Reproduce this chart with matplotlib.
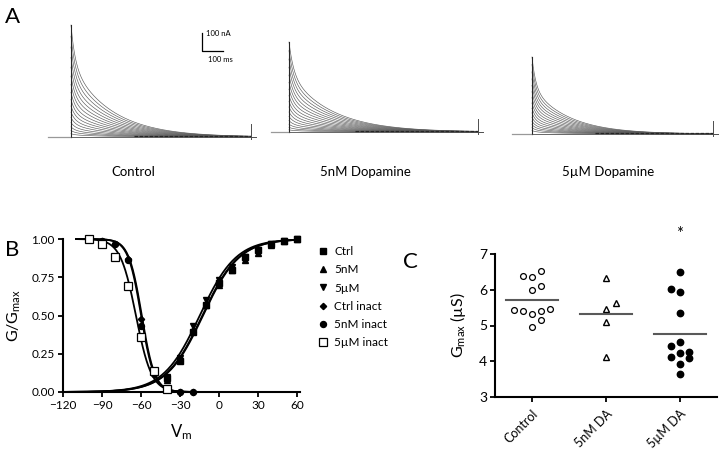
import numpy as np
import matplotlib.pyplot as plt
import matplotlib as mpl

plt.rcParams['font.family'] = ['Lato', 'DejaVu Sans']
plt.rcParams['mathtext.fontset'] = 'custom'
plt.rcParams['mathtext.rm'] = 'Lato'
plt.rcParams['mathtext.it'] = 'Lato'

W, H = 720, 449

# ---------------- panel A: current families (nA) ----------------
trace_names = ['Control', '5nM Dopamine', '5µM Dopamine']
ctrl_peaks = [622, 560, 500, 442, 388, 338, 292, 248, 208, 172, 138, 108, 80, 56, 36, 18]
da5n_peaks = [500, 452, 405, 360, 316, 276, 238, 202, 169, 139, 111, 86, 63, 43, 26, 12]
da5u_peaks = [428, 386, 345, 306, 270, 235, 202, 172, 143, 117, 93, 71, 52, 35, 19]
tau_fast = [20, 22, 18]      # ms
tau_slow = [190, 200, 175]   # ms
frac_fast = [0.35, 0.35, 0.4]
pulse_ms = [857, 900, 862]
prepulse_ms = [110, 86, 95]

# ---------------- panel B: activation / inactivation ----------------
v_act = [-40, -30, -20, -10, 0, 10, 20, 30, 40, 50, 60]
g_ctrl = [0.09, 0.20, 0.39, 0.57, 0.71, 0.80, 0.88, 0.93, 0.97, 0.99, 1.00]
g_5nm = [0.08, 0.22, 0.41, 0.57, 0.70, 0.80, 0.86, 0.91, 0.96, 0.99, 1.00]
g_5um = [0.10, 0.22, 0.43, 0.60, 0.73, 0.82, 0.88, 0.93, 0.97, 0.99, 1.00]

v_inact = [-100, -90, -80, -70, -60, -50, -40, -30, -20]
h_ctrl = [1.00, 0.99, 0.97, 0.87, 0.48, 0.13, 0.02, 0.00, 0.00]
h_5nm = [1.00, 0.99, 0.97, 0.86, 0.43, 0.12, 0.02, 0.00, 0.00]
v_inact_5um = [-100, -90, -80, -70, -60, -50, -40]
h_5um = [1.00, 0.97, 0.88, 0.69, 0.36, 0.14, 0.02]

# Boltzmann fits: (V1/2, k)
act_fits = {'Ctrl': (-13.0, 14.0), '5nM': (-12.5, 14.0), '5µM': (-15.0, 14.0)}
inact_fits = {'Ctrl inact': (-59.5, 5.0), '5nM inact': (-60.0, 5.0), '5µM inact': (-64.0, 6.0)}

# ---------------- panel C: Gmax (µS) ----------------
groups = ['Control', '5nM DA', '5µM DA']
gmax_ctrl = [6.39, 6.37, 6.53, 5.98, 6.10, 5.43, 5.41, 5.32, 5.41, 5.46, 5.15, 4.95]
jit_ctrl = [-0.12, 0.0, 0.12, 0.0, 0.12, -0.24, -0.12, 0.0, 0.12, 0.24, 0.12, 0.0]
gmax_5nm = [6.32, 5.64, 5.45, 5.11, 4.11]
jit_5nm = [0.0, 0.14, 0.0, 0.0, 0.0]
gmax_5um = [6.49, 6.02, 5.95, 5.36, 4.43, 4.55, 4.11, 4.24, 4.27, 4.09, 3.92, 3.64]
jit_5um = [0.0, -0.12, 0.0, 0.0, -0.12, 0.0, -0.12, 0.0, 0.12, 0.12, 0.0, 0.0]

fig = plt.figure(figsize=(W / 100, H / 100), dpi=100)


def px_axes(x0, y0, x1, y1):
    return fig.add_axes([x0 / W, 1 - y1 / H, (x1 - x0) / W, (y1 - y0) / H])


# ---- A ----
px_per_ms, px_per_na = 0.21, 0.18
t0_px = [71, 289, 532]
base_px = [137, 132, 134]
all_peaks = [ctrl_peaks, da5n_peaks, da5u_peaks]
axA = []
for i in range(3):
    ax = px_axes(t0_px[i] - 40, 5, t0_px[i] + 200, 150)
    ax.set_xlim(-40 / px_per_ms, 200 / px_per_ms)
    ax.set_ylim((base_px[i] - 150) / px_per_na, (base_px[i] - 5) / px_per_na)
    ax.axis('off')
    t = np.linspace(0, pulse_ms[i], 800)
    for a in all_peaks[i]:
        cur = a * (frac_fast[i] * np.exp(-t / tau_fast[i]) + (1 - frac_fast[i]) * np.exp(-t / tau_slow[i]))
        ax.plot(t, cur, color='0.35', lw=0.45)
    ax.plot([-prepulse_ms[i], 0], [0, 0], color='0.6', lw=0.9)
    ax.plot([0, 0], [0, all_peaks[i][0]], color='0.15', lw=0.8)
    ax.plot([0, pulse_ms[i]], [0, 0], color='0.3', lw=0.6)
    ax.plot([pulse_ms[i] * 0.35, pulse_ms[i]], [4, 4], color='0.15', lw=0.9, dashes=(3, 1))
    ax.plot([pulse_ms[i], pulse_ms[i]], [-12, 75], color='0.3', lw=0.7)
    ax.plot([pulse_ms[i], pulse_ms[i] + 25], [0, 0], color='0.3', lw=0.7)
    axA.append(ax)
    fig.text((t0_px[i] + [62, 76, 76][i]) / W, 1 - 172 / H, trace_names[i],
             ha='center', va='center', fontsize=9.5)

# scale bar (100 nA / 100 ms) in control axes
ax = axA[0]
sx, sy = 624, 478
ax.plot([sx, sx, sx + 100], [sy + 100, sy, sy], color='black', lw=0.9)
ax.text(sx + 18, sy + 95, '100 nA', fontsize=5.5, va='center', ha='left')
ax.text(sx + 30, sy - 45, '100 ms', fontsize=5.5, va='center', ha='left')

# ---- B ----
axB = px_axes(63, 239, 300, 392)
vv_act = np.linspace(-120, 60, 300)
vv_in = np.linspace(-110, -20, 300)
for name, (vh, k) in act_fits.items():
    axB.plot(vv_act, 1 / (1 + np.exp(-(vv_act - vh) / k)), color='black', lw=1.3, clip_on=False)
for name, (vh, k) in inact_fits.items():
    axB.plot(vv_in, 1 / (1 + np.exp((vv_in - vh) / k)), color='black', lw=1.3, clip_on=False)

mk = dict(color='black', linestyle='none', clip_on=False, zorder=5)
h1, = axB.plot(v_act, g_ctrl, marker='s', markersize=4.3, label='Ctrl', **mk)
h2, = axB.plot(v_act, g_5nm, marker='^', markersize=4.3, label='5nM', **mk)
h3, = axB.plot(v_act, g_5um, marker='v', markersize=4.3, label='5µM', **mk)
h4, = axB.plot(v_inact, h_ctrl, marker='D', markersize=3.2, label='Ctrl inact', **mk)
h5, = axB.plot(v_inact, h_5nm, marker='o', markersize=4.3, label='5nM inact', **mk)
h6, = axB.plot(v_inact_5um, h_5um, marker='s', markersize=5.5, markerfacecolor='white',
               markeredgewidth=0.9, label='5µM inact', **mk)

axB.set_xlim(-120, 62)
axB.set_ylim(0, 1.0)
axB.set_xticks([-120, -90, -60, -30, 0, 30, 60])
axB.set_yticks([0, 0.25, 0.5, 0.75, 1.0])
axB.set_yticklabels(['0.00', '0.25', '0.50', '0.75', '1.00'])
for s in ['top', 'right']:
    axB.spines[s].set_visible(False)
for s in ['left', 'bottom']:
    axB.spines[s].set_linewidth(1.5)
axB.tick_params(direction='out', length=3.5, width=1.3, labelsize=8.5, pad=2.5)
axB.set_xlabel('V$_\\mathrm{m}$', fontsize=12, labelpad=8)
axB.set_ylabel('G/G$_\\mathrm{max}$', fontsize=11.5, labelpad=6)
fig.legend(handles=[h1, h2, h3, h4, h5, h6], loc='upper left',
           bbox_to_anchor=(312 / W, 1 - 240 / H), frameon=False, fontsize=8.5,
           handlelength=0.8, handletextpad=0.6, labelspacing=0.62, borderpad=0)

# ---- C ----
axC = px_axes(495, 254, 717, 397)
axC.plot(np.array(jit_ctrl) + 0, gmax_ctrl, 'o', markersize=4.2, markerfacecolor='white',
         markeredgecolor='black', markeredgewidth=0.9)
axC.plot(np.array(jit_5nm) + 1, gmax_5nm, '^', markersize=4.6, markerfacecolor='white',
         markeredgecolor='black', markeredgewidth=1.0)
axC.plot(np.array(jit_5um) + 2, gmax_5um, 'o', markersize=4.6, color='black')
for i, vals in enumerate([gmax_ctrl, gmax_5nm, gmax_5um]):
    m = np.mean(vals)
    axC.plot([i - 0.345, i + 0.345], [m, m], color='0.35', lw=1.5)
axC.text(2, 7.55, '*', ha='center', va='center', fontsize=12)
axC.set_xlim(-0.5, 2.5)
axC.set_ylim(3, 7)
axC.set_yticks([3, 4, 5, 6, 7])
axC.set_xticks([0, 1, 2])
axC.set_xticklabels(groups, rotation=45, ha='right', rotation_mode='anchor')
for s in ['top', 'right']:
    axC.spines[s].set_visible(False)
for s in ['left', 'bottom']:
    axC.spines[s].set_linewidth(1.5)
axC.tick_params(axis='y', direction='out', length=3.5, width=1.3, labelsize=10, pad=2)
axC.tick_params(axis='x', direction='out', length=3.5, width=1.3, labelsize=9, pad=4)
axC.set_ylabel('G$_\\mathrm{max}$ (µS)', fontsize=11.5, labelpad=8)

# panel letters
fig.text(5 / W, 1 - 17 / H, 'A', fontsize=16, va='center', ha='left')
fig.text(5 / W, 1 - 250 / H, 'B', fontsize=16, va='center', ha='left')
fig.text(403 / W, 1 - 262 / H, 'C', fontsize=16, va='center', ha='left')

plt.savefig('out.png', dpi=100)
